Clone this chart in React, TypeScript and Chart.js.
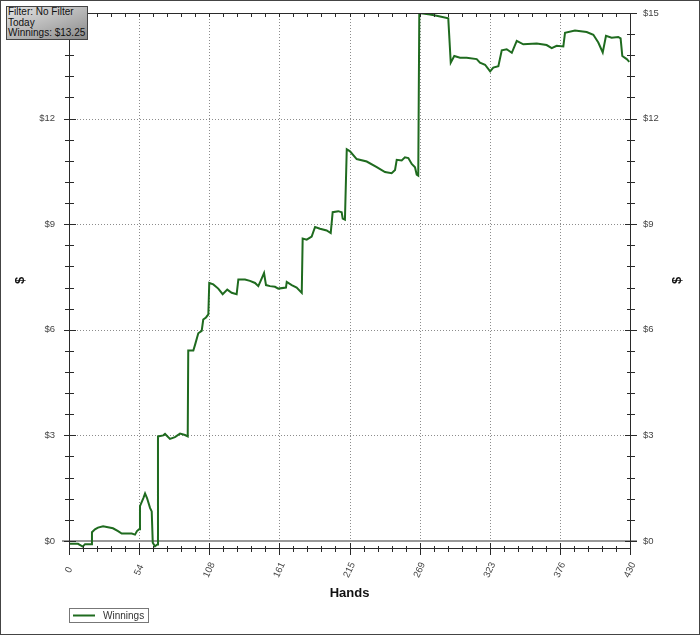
import React, { useEffect, useRef } from "react";
import { Chart, registerables } from "chart.js";

Chart.register(...registerables);

// ---- data ----
const hands = [
  0, 6.9, 10.5, 12.3, 17.4, 17.6, 19.9, 22.2, 26.1, 29.9, 33.7, 37.6, 40.4, 48.1, 50.6, 52.1, 53.7,
  54.4, 57.0, 58.3, 59.8, 62.1, 63.4, 64.2, 65.9, 67.7, 68.2, 72.3, 73.6, 77.4, 81.2, 85.1, 88.9,
  91.0, 91.4, 95.3, 96.6, 99.1, 101.7, 102.9, 105.0, 106.8, 107.5, 110.6, 114.4, 117.8, 121.3,
  124.7, 128.5, 129.8, 134.9, 138.7, 142.6, 145.1, 146.9, 149.5, 151.0, 154.1, 157.9, 160.4,
  166.3, 166.9, 170.7, 174.5, 178.4, 179.1, 182.2, 186.0, 188.6, 192.4, 197.5, 200.6, 202.1,
  206.4, 209.0, 209.8, 211.5, 212.9, 215.4, 220.5, 228.2, 235.9, 242.2, 247.3, 249.9, 251.2,
  255.0, 257.5, 260.1, 262.7, 265.2, 266.5, 267.7, 268.5, 276.7, 281.8, 290.7, 292.6, 295.3,
  299.7, 304.8, 312.5, 315.0, 318.9, 322.8, 325.2, 329.1, 331.7, 335.5, 339.4, 343.2, 348.2,
  358.5, 366.1, 370.0, 373.8, 378.9, 380.2, 387.8, 396.8, 401.9, 405.7, 409.1, 411.6, 415.9,
  421.0, 422.8, 424.1, 427.5, 429.5,
];
const winnings = [
  -0.08, -0.08, -0.16, -0.09, -0.09, 0.25, 0.33, 0.38, 0.42, 0.39, 0.36, 0.28, 0.21, 0.21, 0.18, 0.28, 0.33,
  0.99, 1.22, 1.35, 1.22, 0.94, 0.84, -0.05, -0.15, -0.1, 2.97, 3.0, 3.04, 2.9, 2.95, 3.05, 3.01,
  2.97, 5.41, 5.41, 5.57, 5.9, 5.97, 6.29, 6.35, 6.44, 7.33, 7.29, 7.17, 7.01, 7.14,
  7.05, 7.01, 7.43, 7.43, 7.39, 7.33, 7.24, 7.39, 7.61, 7.27, 7.24, 7.22, 7.17,
  7.2, 7.36, 7.27, 7.2, 7.05, 8.59, 8.56, 8.65, 8.92, 8.87, 8.82, 8.75, 9.34,
  9.37, 9.34, 9.16, 9.13, 11.13, 11.07, 10.85, 10.78, 10.62, 10.48, 10.45, 10.54, 10.83,
  10.81, 10.9, 10.88, 10.71, 10.62, 10.41, 10.38, 15.0, 14.96, 14.92, 14.85, 13.59, 13.78,
  13.73, 13.73, 13.69, 13.59, 13.53, 13.34, 13.45, 13.49, 13.94, 13.97, 13.87, 14.21, 14.11,
  14.13, 14.09, 14.0, 14.07, 14.05, 14.44, 14.5, 14.46, 14.38, 14.16, 13.88, 14.35, 14.3,
  14.32, 14.28, 13.78, 13.69, 13.61,
];

const xTickValues = [0, 53.75, 107.5, 161.25, 215, 268.75, 322.5, 376.25, 430];
const xTickLabels = ["0", "54", "108", "161", "215", "269", "323", "376", "430"];
const yTickValues = [0, 3, 6, 9, 12, 15];
const yTickLabels = ["$0", "$3", "$6", "$9", "$12", "$15"];
const seriesName = "Winnings";
const xTitle = "Hands";
const yTitle = "$";
const infoLines = ["Filter: No Filter", "Today", "Winnings: $13.25"];

const X_MIN = 0;
const X_MAX = 430;
const Y_MIN = -0.2;
const Y_MAX = 15;
const X_MINOR = 10.75;
const Y_MINOR = 0.6;

const LINE_COLOR = "#1f6b1f";
const FONT = "'Liberation Sans', Arial, sans-serif";

function seg(ctx: CanvasRenderingContext2D, x1: number, y1: number, x2: number, y2: number) {
  ctx.beginPath();
  ctx.moveTo(x1, y1);
  ctx.lineTo(x2, y2);
  ctx.stroke();
}

const framePlugin = {
  id: "framePlugin",
  beforeDatasetsDraw(chart: any) {
    const { ctx, chartArea: a, scales } = chart;
    const xs = scales.x;
    const ys = scales.y;
    ctx.save();
    ctx.strokeStyle = "#8c8c8c";
    ctx.lineWidth = 1;
    ctx.setLineDash([1, 2]);
    xTickValues.forEach((v) => {
      if (v === X_MIN || v === X_MAX) return;
      const px = Math.round(xs.getPixelForValue(v)) + 0.5;
      seg(ctx, px, a.top, px, a.bottom);
    });
    yTickValues.forEach((v) => {
      if (v === 0 || v === Y_MAX) return;
      const py = Math.round(ys.getPixelForValue(v)) + 0.5;
      seg(ctx, a.left - 4, py, a.right, py);
    });
    ctx.setLineDash([]);
    ctx.strokeStyle = "#9a9a9a";
    ctx.lineWidth = 2;
    const p0 = Math.round(ys.getPixelForValue(0));
    seg(ctx, a.left - 7, p0, a.right + 7, p0);
    ctx.restore();
  },
  afterDatasetsDraw(chart: any) {
    const { ctx, chartArea: a, scales, width, height } = chart;
    const xs = scales.x;
    const ys = scales.y;
    ctx.save();
    // frame
    ctx.strokeStyle = "#2a2a2a";
    ctx.lineWidth = 1;
    ctx.strokeRect(a.left + 0.5, a.top + 0.5, a.right - a.left, a.bottom - a.top);

    // x ticks (bottom crossing, top inward)
    for (let i = 0; i <= 40; i++) {
      const v = X_MIN + i * X_MINOR;
      const px = Math.round(xs.getPixelForValue(v)) + 0.5;
      const major = i % 5 === 0;
      if (major) seg(ctx, px, a.bottom - 5, px, a.bottom + 7);
      else seg(ctx, px, a.bottom - 2, px, a.bottom + 4);
      seg(ctx, px, a.top, px, a.top + 4);
    }
    // y ticks (left and right crossing)
    for (let i = 0; i * Y_MINOR <= Y_MAX + 1e-6; i++) {
      const v = i * Y_MINOR;
      const py = Math.round(ys.getPixelForValue(v)) + 0.5;
      const major = i % 5 === 0;
      if (major) {
        seg(ctx, a.left - 5, py, a.left + 7, py);
        seg(ctx, a.right - 5, py, a.right + 7, py);
      } else {
        seg(ctx, a.left - 4, py, a.left + 5, py);
        seg(ctx, a.right - 3, py, a.right + 5, py);
      }
    }

    // tick labels
    ctx.fillStyle = "#444";
    ctx.font = `9.5px ${FONT}`;
    ctx.textBaseline = "middle";
    yTickValues.forEach((v, i) => {
      const py = ys.getPixelForValue(v);
      ctx.textAlign = "right";
      ctx.fillText(yTickLabels[i], a.left - 14, py);
      ctx.textAlign = "left";
      ctx.fillText(yTickLabels[i], a.right + 13, py);
    });
    ctx.textAlign = "center";
    xTickValues.forEach((v, i) => {
      const px = xs.getPixelForValue(v);
      ctx.save();
      ctx.translate(px, a.bottom + 22);
      ctx.rotate((-65 * Math.PI) / 180);
      ctx.fillText(xTickLabels[i], 0, 0);
      ctx.restore();
    });

    // axis titles
    ctx.fillStyle = "#111";
    ctx.font = `bold 13px ${FONT}`;
    ctx.textAlign = "center";
    ctx.textBaseline = "middle";
    ctx.fillText(xTitle, (a.left + a.right) / 2, a.bottom + 45);
    const midY = (a.top + a.bottom) / 2;
    [20, 677].forEach((tx) => {
      ctx.save();
      ctx.translate(tx, midY);
      ctx.rotate(-Math.PI / 2);
      ctx.fillText(yTitle, 0, 0);
      ctx.restore();
    });

    // legend
    const lx = a.left;
    const ly = 608;
    ctx.strokeStyle = "#777";
    ctx.lineWidth = 1;
    ctx.strokeRect(lx + 0.5, ly + 0.5, 79, 14);
    ctx.strokeStyle = LINE_COLOR;
    ctx.lineWidth = 2;
    seg(ctx, lx + 4, ly + 7.5, lx + 26, ly + 7.5);
    ctx.fillStyle = "#333";
    ctx.font = `10px ${FONT}`;
    ctx.textAlign = "left";
    ctx.fillText(seriesName, lx + 34, ly + 8);

    // outer frame
    ctx.strokeStyle = "#444";
    ctx.lineWidth = 1;
    ctx.strokeRect(0.5, 0.5, width - 1, height - 1);
    ctx.restore();
  },
};

export default function App() {
  const canvasRef = useRef<HTMLCanvasElement | null>(null);

  useEffect(() => {
    const canvas = canvasRef.current;
    if (!canvas) return;
    const points = hands.map((h, i) => ({ x: h, y: winnings[i] }));
    const chart = new Chart(canvas, {
      type: "line",
      data: {
        datasets: [
          {
            label: seriesName,
            data: points,
            borderColor: LINE_COLOR,
            backgroundColor: LINE_COLOR,
            borderWidth: 2,
            pointRadius: 0,
            tension: 0,
            fill: false,
          },
        ],
      },
      options: {
        responsive: false,
        animation: false,
        devicePixelRatio: 1,
        layout: { padding: { top: 13, right: 70, left: 0, bottom: 0 } },
        plugins: { legend: { display: false }, tooltip: { enabled: false } },
        scales: {
          x: {
            type: "linear",
            min: X_MIN,
            max: X_MAX,
            grid: { display: false },
            border: { display: false },
            ticks: { display: false },
            afterFit: (s: any) => {
              s.height = 87;
            },
          },
          y: {
            type: "linear",
            min: Y_MIN,
            max: Y_MAX,
            grid: { display: false },
            border: { display: false },
            ticks: { display: false },
            afterFit: (s: any) => {
              s.width = 69;
            },
          },
        },
      },
      plugins: [framePlugin],
    });
    return () => chart.destroy();
  }, []);

  return (
    <div style={{ position: "absolute", left: 0, top: 0, width: 700, height: 635, background: "#fff" }}>
      <canvas ref={canvasRef} width={700} height={635} style={{ display: "block", width: 700, height: 635 }} />
      <div
        style={{
          position: "absolute",
          left: 6,
          top: 6,
          width: 82,
          height: 34,
          boxSizing: "border-box",
          border: "1px solid #444",
          background: "linear-gradient(160deg, #e4e4e4 0%, #b4b4b4 55%, #8a8a8a 100%)",
          fontFamily: FONT,
          fontSize: 10,
          lineHeight: "10.5px",
          color: "#111",
          padding: "0px 1px",
          whiteSpace: "nowrap",
          overflow: "hidden",
        }}
      >
        {infoLines.map((t) => (
          <div key={t}>{t}</div>
        ))}
      </div>
    </div>
  );
}
